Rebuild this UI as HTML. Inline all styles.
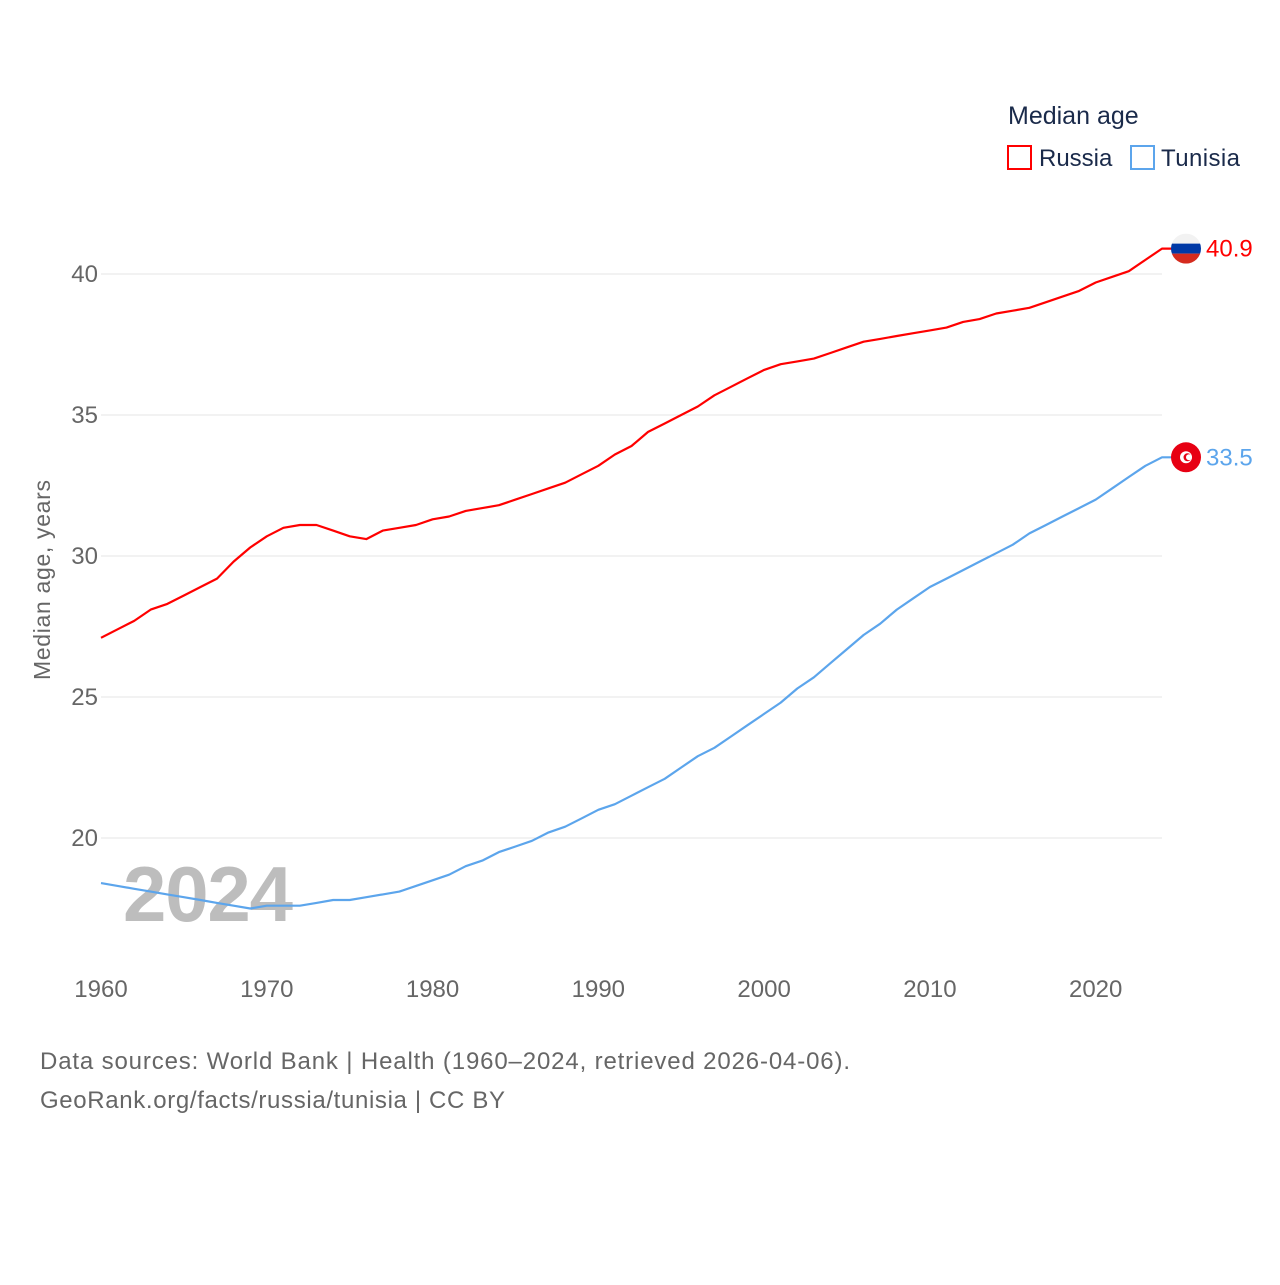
<!DOCTYPE html>
<html><head><meta charset="utf-8"><style>
body{margin:0;background:#fff;width:1280px;height:1280px;overflow:hidden;font-family:"Liberation Sans",sans-serif}
svg text{font-family:"Liberation Sans",sans-serif}
</style></head><body>
<svg id="chart" width="1280" height="1280">
<g id="grid"></g>
<text x="208" y="921" font-size="78" font-weight="bold" fill="#bdbdbd" text-anchor="middle" textLength="170">2024</text>
<g id="series"></g>
<text transform="translate(50,580) rotate(-90)" font-size="23" fill="#666" text-anchor="middle" textLength="200">Median age, years</text>
<text x="1008" y="124" font-size="25" fill="#1a2a4a">Median age</text>
<g><rect x="1008" y="146" width="23" height="23" fill="none" stroke="#f00" stroke-width="2"/><text x="1039" y="166" font-size="24" fill="#1a2a4a">Russia</text></g>
<g><rect x="1131" y="146" width="23" height="23" fill="none" stroke="#5ca5ec" stroke-width="2"/><text x="1161" y="166" font-size="24" fill="#1a2a4a" textLength="79">Tunisia</text></g>
<text x="40" y="1069" font-size="24" fill="#666" textLength="810">Data sources: World Bank | Health (1960–2024, retrieved 2026-04-06).</text>
<text x="40" y="1108" font-size="24" fill="#666" textLength="465">GeoRank.org/facts/russia/tunisia | CC BY</text>
</svg>
<script>
const years=[];for(let y=1960;y<=2024;y++)years.push(y);
const russia=[27.1,27.4,27.7,28.1,28.3,28.6,28.9,29.2,29.8,30.3,30.7,31.0,31.1,31.1,30.9,30.7,30.6,30.9,31.0,31.1,31.3,31.4,31.6,31.7,31.8,32.0,32.2,32.4,32.6,32.9,33.2,33.6,33.9,34.4,34.7,35.0,35.3,35.7,36.0,36.3,36.6,36.8,36.9,37.0,37.2,37.4,37.6,37.7,37.8,37.9,38.0,38.1,38.3,38.4,38.6,38.7,38.8,39.0,39.2,39.4,39.7,39.9,40.1,40.5,40.9];
const tunisia=[18.4,18.3,18.2,18.1,18.0,17.9,17.8,17.7,17.6,17.5,17.6,17.6,17.6,17.7,17.8,17.8,17.9,18.0,18.1,18.3,18.5,18.7,19.0,19.2,19.5,19.7,19.9,20.2,20.4,20.7,21.0,21.2,21.5,21.8,22.1,22.5,22.9,23.2,23.6,24.0,24.4,24.8,25.3,25.7,26.2,26.7,27.2,27.6,28.1,28.5,28.9,29.2,29.5,29.8,30.1,30.4,30.8,31.1,31.4,31.7,32.0,32.4,32.8,33.2,33.5];
const yTicks=[20,25,30,35,40];
const xTicks=[1960,1970,1980,1990,2000,2010,2020];
const X=y=>101+(y-1960)*(1061/64);
const Y=v=>838-(v-20)*28.2;
const NS='http://www.w3.org/2000/svg';
const grid=document.getElementById('grid'),ser=document.getElementById('series');
function mk(tag,attrs,parent,txt){const e=document.createElementNS(NS,tag);for(const k in attrs)e.setAttribute(k,attrs[k]);if(txt!==undefined)e.textContent=txt;parent.appendChild(e);return e;}
yTicks.forEach(t=>{
 const l=mk('line',{x1:101,x2:1162,y1:Y(t),y2:Y(t),stroke:'#e6e6e6','stroke-width':1},grid);
 
 
 const tx=mk('text',{x:98,y:Y(t)+8,'font-size':24,fill:'#666','text-anchor':'end'},grid,t);
 
 
});
xTicks.forEach(t=>{
 const tx=mk('text',{x:X(t),y:997,'font-size':24,fill:'#666','text-anchor':'middle'},grid,t);
 
 
});
function line(vals,color,name){
 const d=vals.map((v,i)=>(i?'L':'M')+X(years[i]).toFixed(1)+','+Y(v).toFixed(1)).join('')+'H1172';
 const p=mk('path',{d:d,fill:'none',stroke:color,'stroke-width':2.2,'stroke-linejoin':'round'},ser);
 
 
 const last=vals[vals.length-1];
 const t=mk('text',{x:1206,y:Y(last)+8,'font-size':24,fill:color},ser,last.toFixed(1));
 
 
 return Y(last);
}
const ry=line(russia,'#ff0000','russia');
const ty=line(tunisia,'#5ca5ec','tunisia');
const rf=mk('g',{},ser);


mk('clipPath',{id:'rc'},rf).appendChild(document.createElementNS(NS,'circle')).setAttribute('r',15);
document.querySelector('#rc circle').setAttribute('cx',1186);document.querySelector('#rc circle').setAttribute('cy',ry);
mk('rect',{x:1171,y:ry-15,width:30,height:10,fill:'#f2f2f2','clip-path':'url(#rc)'},rf);
mk('rect',{x:1171,y:ry-5,width:30,height:10,fill:'#0039a6','clip-path':'url(#rc)'},rf);
mk('rect',{x:1171,y:ry+5,width:30,height:10,fill:'#d52b1e','clip-path':'url(#rc)'},rf);
const tf=mk('g',{},ser);


mk('circle',{cx:1186,cy:ty,r:15,fill:'#e70013'},tf);
mk('circle',{cx:1186,cy:ty,r:6,fill:'#fff'},tf);
mk('circle',{cx:1187.5,cy:ty,r:4,fill:'#e70013'},tf);
mk('circle',{cx:1189,cy:ty,r:3,fill:'#fff'},tf);
</script>
</body></html>
